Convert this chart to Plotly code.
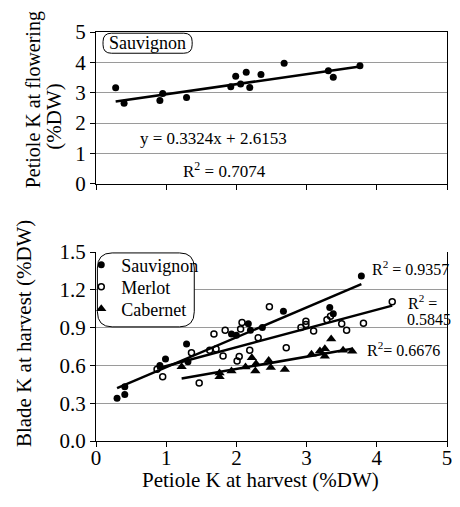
import plotly.graph_objects as go

FONT = "Liberation Serif, Times New Roman, serif"

# ---- Top panel: Sauvignon, petiole K at flowering vs petiole K at harvest ----
top_x = [0.28, 0.40, 0.91, 0.95, 1.29, 1.92, 1.99, 2.06, 2.14, 2.19, 2.35, 2.68, 3.31, 3.38, 3.76]
top_y = [3.16, 2.65, 2.74, 2.97, 2.84, 3.20, 3.54, 3.29, 3.67, 3.17, 3.60, 3.97, 3.72, 3.51, 3.89]
top_slope = 0.3324
top_intercept = 2.6153
top_r2 = "0.7074"

# ---- Bottom panel: blade K vs petiole K at harvest ----
sauv_x = [0.30, 0.41, 0.41, 0.91, 0.99, 1.29, 1.31, 1.93, 2.00, 2.17, 2.20, 2.37, 2.67, 3.33, 3.38, 3.78]
sauv_y = [0.34, 0.37, 0.43, 0.60, 0.65, 0.77, 0.63, 0.85, 0.84, 0.93, 0.88, 0.90, 1.03, 1.06, 1.01, 1.31]

merlot_x = [0.87, 0.95, 1.36, 1.47, 1.62, 1.68, 1.71, 1.81, 1.84, 2.01, 2.04, 2.06, 2.08, 2.19,
            2.31, 2.47, 2.71, 2.92, 2.99, 2.99, 3.10, 3.29, 3.34, 3.50, 3.57, 3.81, 4.22]
merlot_y = [0.57, 0.51, 0.70, 0.46, 0.72, 0.85, 0.73, 0.675, 0.88, 0.635, 0.67, 0.89, 0.94, 0.72,
            0.82, 1.065, 0.74, 0.90, 0.95, 0.925, 0.873, 0.963, 0.99, 0.93, 0.88, 0.935, 1.106]

cab_x = [1.22, 1.76, 1.76, 1.93, 2.13, 2.22, 2.28, 2.27, 2.46, 2.49, 2.69, 3.07, 3.19, 3.26, 3.26, 3.35, 3.52, 3.65]
cab_y = [0.59, 0.54, 0.51, 0.555, 0.587, 0.66, 0.614, 0.555, 0.64, 0.583, 0.567, 0.688, 0.715, 0.733, 0.672, 0.81, 0.72, 0.712]

# trend-line coefficients (slope, intercept) and their R² labels
sauv_fit = (0.237, 0.349)
merlot_fit = (0.149, 0.446)
cab_fit = (0.0975, 0.377)
r2_values = ["0.9357", "0.5845", "0.6676"]

x_ticks = [0, 1, 2, 3, 4, 5]
top_y_ticks = [0, 1, 2, 3, 4, 5]
bot_y_ticks = [0.0, 0.3, 0.6, 0.9, 1.2, 1.5]


def trend(xs, slope, intercept):
    xa = [min(xs), max(xs)]
    return xa, [slope * v + intercept for v in xa]


fig = go.Figure()

# top panel
fig.add_trace(go.Scatter(x=top_x, y=top_y, mode="markers", xaxis="x", yaxis="y",
                         marker=dict(symbol="circle", size=7, color="black"), showlegend=False))
tx, ty = trend(top_x, top_slope, top_intercept)
fig.add_trace(go.Scatter(x=tx, y=ty, mode="lines", xaxis="x", yaxis="y",
                         line=dict(color="black", width=2.5), showlegend=False))

# bottom panel
fig.add_trace(go.Scatter(x=sauv_x, y=sauv_y, mode="markers", xaxis="x2", yaxis="y2", name="Sauvignon",
                         legend="legend", marker=dict(symbol="circle", size=7, color="black")))
fig.add_trace(go.Scatter(x=merlot_x, y=merlot_y, mode="markers", xaxis="x2", yaxis="y2", name="Merlot",
                         legend="legend2",
                         marker=dict(symbol="circle-open", size=6, color="black", line=dict(width=1.5))))
fig.add_trace(go.Scatter(x=cab_x, y=cab_y, mode="markers", xaxis="x2", yaxis="y2", name="Cabernet",
                         legend="legend3", marker=dict(symbol="triangle-up", size=9, color="black")))
for xs, (s, b) in [(sauv_x, sauv_fit), (merlot_x, merlot_fit), (cab_x, cab_fit)]:
    lx, ly = trend(xs, s, b)
    fig.add_trace(go.Scatter(x=lx, y=ly, mode="lines", xaxis="x2", yaxis="y2",
                             line=dict(color="black", width=2.5), showlegend=False))


def rrect(x0, x1, y0, y1, rx, ry):
    return (f"M {x0+rx},{y1} L {x1-rx},{y1} Q {x1},{y1} {x1},{y1-ry} L {x1},{y0+ry} "
            f"Q {x1},{y0} {x1-rx},{y0} L {x0+rx},{y0} Q {x0},{y0} {x0},{y0+ry} "
            f"L {x0},{y1-ry} Q {x0},{y1} {x0+rx},{y1} Z")


shapes = [
    dict(type="path", xref="x", yref="y", path=rrect(0.10, 1.37, 4.30, 4.96, 0.12, 0.28),
         line=dict(color="black", width=1), fillcolor="white", layer="between"),
    dict(type="path", xref="x2", yref="y2", path=rrect(0.02, 1.40, 0.906, 1.493, 0.21, 0.12),
         line=dict(color="black", width=1), fillcolor="white", layer="between"),
]

tfont = dict(family=FONT, size=21, color="black")
tfont20 = dict(family=FONT, size=20, color="black")
sfont = dict(family=FONT, size=16, color="black")
sfont17 = dict(family=FONT, size=17, color="black")


def ann(text, x, y, xref, yref, font, xanchor="center", angle=0, align="center"):
    return dict(text=text, x=x, y=y, xref=xref, yref=yref, showarrow=False, xanchor=xanchor,
                yanchor="middle", textangle=angle, align=align, font=font)


annotations = [
    ann("Sauvignon", 0.735, 4.63, "x", "y", dict(family=FONT, size=18, color="black")),
    ann(f"y = {top_slope}x + {top_intercept}", 1.68, 1.49, "x", "y", sfont17),
    ann(f"R<sup>2</sup> = {top_r2}", 1.83, 0.44, "x", "y", sfont17),
    ann(f"R<sup>2</sup> = {r2_values[0]}", 3.90, 1.37, "x2", "y2", sfont, xanchor="left"),
    ann("R<sup>2</sup> =", 4.42, 1.10, "x2", "y2", sfont, xanchor="left"),
    ann(r2_values[1], 4.40, 0.966, "x2", "y2", sfont, xanchor="left"),
    ann(f"R<sup>2</sup>= {r2_values[2]}", 3.83, 0.733, "x2", "y2", sfont, xanchor="left"),
    ann("Petiole K at flowering", -0.1756, 0.834, "paper", "paper", tfont20, angle=-90),
    ann("(%DW)", -0.1208, 0.792, "paper", "paper", tfont, angle=-90),
    ann("Blade K at harvest (%DW)", -0.205, 0.2616, "paper", "paper", tfont, angle=-90),
    ann("Petiole K at harvest (%DW)", 0.469, -0.095, "paper", "paper", tfont),
]

tickfont = dict(family=FONT, size=21, color="black")
legfont = dict(family=FONT, size=18, color="black")


def leg(y):
    return dict(x=-0.042, y=y, xanchor="left", yanchor="middle", bgcolor="rgba(0,0,0,0)",
                borderwidth=0, font=legfont, itemwidth=30)


fig.update_layout(
    width=452, height=499,
    margin=dict(l=88, r=8, t=24, b=66),
    paper_bgcolor="white", plot_bgcolor="white",
    font=dict(family=FONT, color="black"),
    xaxis=dict(domain=[0, 1], anchor="y", range=[0, 5], tickvals=x_ticks, showticklabels=False,
               ticks="outside", ticklen=5, tickcolor="black", showline=True, linecolor="black",
               linewidth=1, mirror=True, showgrid=False, zeroline=False),
    yaxis=dict(domain=[0.629, 1], anchor="x", range=[0, 5], tickvals=top_y_ticks,
               ticks="outside", ticklen=5, tickcolor="black", showline=True, linecolor="black",
               linewidth=1, mirror=True, showgrid=True, gridcolor="#9a9a9a", gridwidth=1,
               zeroline=False, tickfont=tickfont),
    xaxis2=dict(domain=[0, 1], anchor="y2", range=[0, 5], tickvals=x_ticks,
                ticks="outside", ticklen=5, tickcolor="black", showline=True, linecolor="black",
                linewidth=1, showgrid=False, zeroline=False, tickfont=tickfont,
                ticklabelstandoff=-7),
    yaxis2=dict(domain=[0, 0.462], anchor="x2", range=[0, 1.5], tickvals=bot_y_ticks,
                tickformat=".1f", ticks="outside", ticklen=5, tickcolor="black", showline=True,
                linecolor="black", linewidth=1, mirror=True, showgrid=True, gridcolor="#9a9a9a",
                gridwidth=1, zeroline=False, tickfont=tickfont),
    legend=leg(0.430),
    legend2=leg(0.3765),
    legend3=leg(0.3227),
    shapes=shapes,
    annotations=annotations,
)

fig.write_html("out.html")
